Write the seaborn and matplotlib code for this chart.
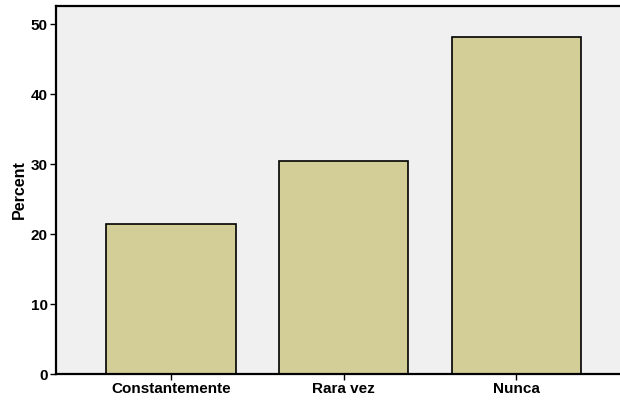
import matplotlib
matplotlib.use("Agg")
import matplotlib.pyplot as plt
import seaborn as sns
import pandas as pd

categories = ["Constantemente", "Rara vez", "Nunca"]
percent = [21.5, 30.4, 48.1]
yticks = [0, 10, 20, 30, 40, 50]

sns.set_style("white")
plt.rcParams["font.family"] = ["Liberation Sans", "DejaVu Sans"]
plt.rcParams["text.color"] = "black"
plt.rcParams["axes.labelcolor"] = "black"
plt.rcParams["xtick.color"] = "black"
plt.rcParams["ytick.color"] = "black"

df = pd.DataFrame({"cat": categories, "pct": percent})

fig = plt.figure(figsize=(6.2, 4.07), dpi=100)
ax = fig.add_axes([56/620, 33/407, 564/620, 368/407])
ax.set_facecolor("#F0F0F0")
sns.barplot(data=df, x="cat", y="pct", color="#D3CE97", saturation=1,
            width=0.75, edgecolor="black", linewidth=1.2, ax=ax)
ax.set_xlim(-0.665, 2.6)
ax.set_ylim(0, 52.6)
ax.set_yticks(yticks)
ax.set_yticklabels([str(t) for t in yticks], fontweight="bold", fontsize=11)
ax.set_xticks(range(len(categories)))
ax.set_xticklabels(categories, fontweight="bold", fontsize=11)
ax.set_xlabel("")
ax.set_ylabel("Percent", fontweight="bold", fontsize=11.5, labelpad=3)
ax.tick_params(axis="both", direction="out", length=4, width=1, colors="black", pad=2,
               left=True, bottom=True)
for s in ["left", "bottom", "top"]:
    ax.spines[s].set_linewidth(1.6)
    ax.spines[s].set_color("black")
ax.spines["right"].set_visible(False)
fig.savefig("out.png", dpi=100, facecolor="white")
